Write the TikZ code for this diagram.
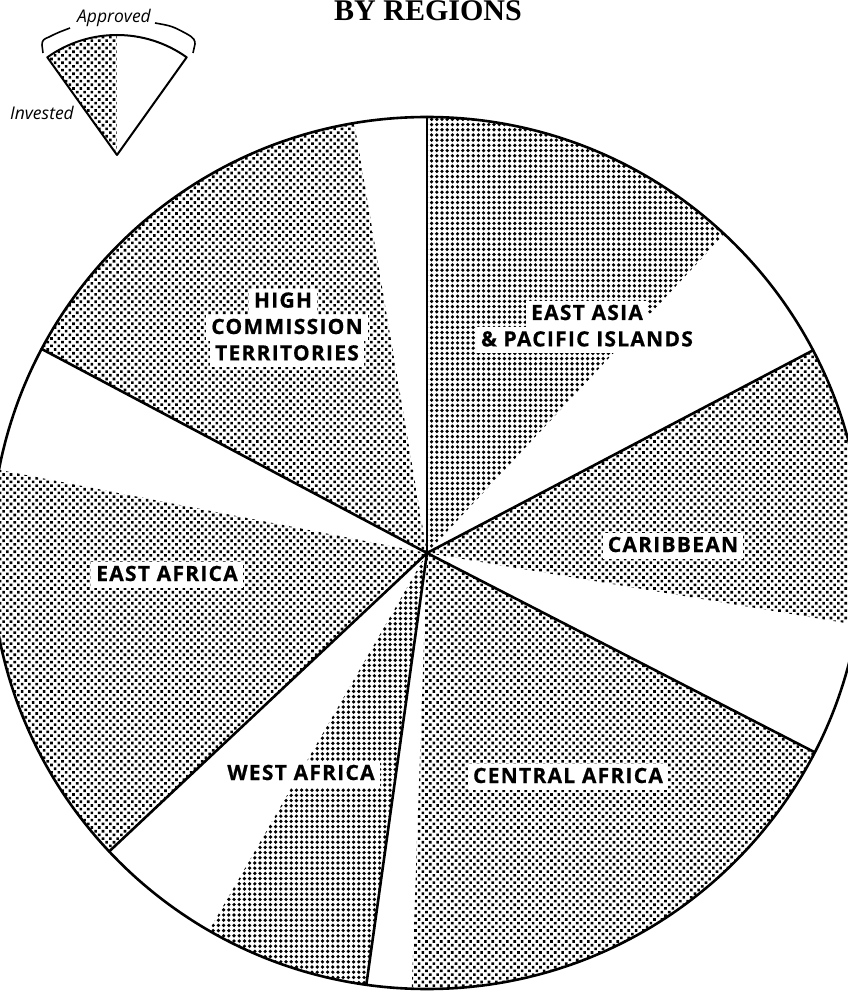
\documentclass[tikz,border=0pt]{standalone}
\usepackage{fontspec}
\setmainfont{Liberation Serif}
\setsansfont{Open Sans}
\newfontfamily\regionfont{Open Sans}[LetterSpace=6, BoldFeatures={FakeBold=0.7}]
\usetikzlibrary{patterns.meta,positioning,calc}

\tikzset{
  rim/.style={line width=2.6pt, line join=round},
  spoke/.style={line width=2.6pt, line cap=round},
  dotsq/.style={pattern={Dots[distance=5.2pt,radius=1.85pt]}},
  dotdg/.style={pattern={Dots[distance=5.2pt,radius=1.85pt,angle=45]}},
  region/.style={fill=white, inner xsep=5pt, inner ysep=4pt, text height=15pt, text depth=3pt,
    font=\regionfont\bfseries\fontsize{21}{23}\selectfont},
  keytext/.style={font=\sffamily\itshape\fontsize{17.5}{19}\selectfont, inner sep=1pt},
}

\begin{document}
\begin{tikzpicture}[x=1pt,y=1pt]
\useasboundingbox (-427,-440) rectangle (420,553);
\def\R{436}
\coordinate (O) at (0,0);

% invested part of each region
\fill [dotdg] (O) -- (99.6:\R) arc[start angle=99.6, end angle=152.1, radius=\R] -- cycle;
\fill [dotdg] (O) -- (169:\R) arc[start angle=169, end angle=223.2, radius=\R] -- cycle;
\fill [dotsq] (O) -- (240:\R) arc[start angle=240, end angle=262, radius=\R] -- cycle;
\fill [dotdg] (O) -- (268:\R) arc[start angle=268, end angle=332.8, radius=\R] -- cycle;
\fill [dotdg] (O) -- (-9.5:\R) arc[start angle=-9.5, end angle=27.7, radius=\R] -- cycle;
\fill [dotsq] (O) -- (47:\R) arc[start angle=47, end angle=90, radius=\R] -- cycle;

% approved, region by region
\draw [rim] (O) circle[radius=\R];
\draw [spoke] (O) -- (90:\R);
\draw [spoke] (O) -- (27.7:\R);
\draw [spoke] (O) -- (-27.2:\R);
\draw [spoke] (O) -- (-98:\R);
\draw [spoke] (O) -- (-136.8:\R);
\draw [spoke] (O) -- (152.1:\R);

% region names
\node [region] (commission) at (-140,225) {COMMISSION};
\node [region, above=0pt of commission, xshift=-4pt] (high) {HIGH};
\node [region, below=0pt of commission] (territories) {TERRITORIES};
\node [region] (eastasia) at (160,239) {EAST ASIA};
\node [region, below=0pt of eastasia] (pacific) {\& PACIFIC ISLANDS};
\node [region] (caribbean) at (246,7) {CARIBBEAN};
\node [region] (eastafrica) at (-260,-22) {EAST AFRICA};
\node [region] (westafrica) at (-126,-221) {WEST AFRICA};
\node [region] (centralafrica) at (141,-224) {CENTRAL AFRICA};

% title
\node [font=\bfseries\fontsize{30}{32}\selectfont, anchor=base] (title) at (1,532) {BY REGIONS};

% key
\coordinate (A) at (-310,398);
\fill [dotdg] (A) -- ++(90:120) arc[start angle=90, end angle=125.5, radius=120] -- cycle;
\draw [rim, line width=2pt] (A) -- ++(54.5:120) arc[start angle=54.5, end angle=125.5, radius=120] -- cycle;
\draw [line width=1.6pt] (-384,500) -- (-385,508) .. controls (-385,513) and (-383,514) .. (-378,516)
  .. controls (-370,520) .. (-357,525);
\draw [line width=1.6pt] (-272,530) .. controls (-255,527) .. (-240,519)
  .. controls (-233,515) and (-232,513) .. (-232,509) -- (-234,500);
\node [keytext] (approved) at (-313,535) {Approved};
\node [keytext] (invested) at (-385,440) {Invested};

\end{tikzpicture}
\end{document}
